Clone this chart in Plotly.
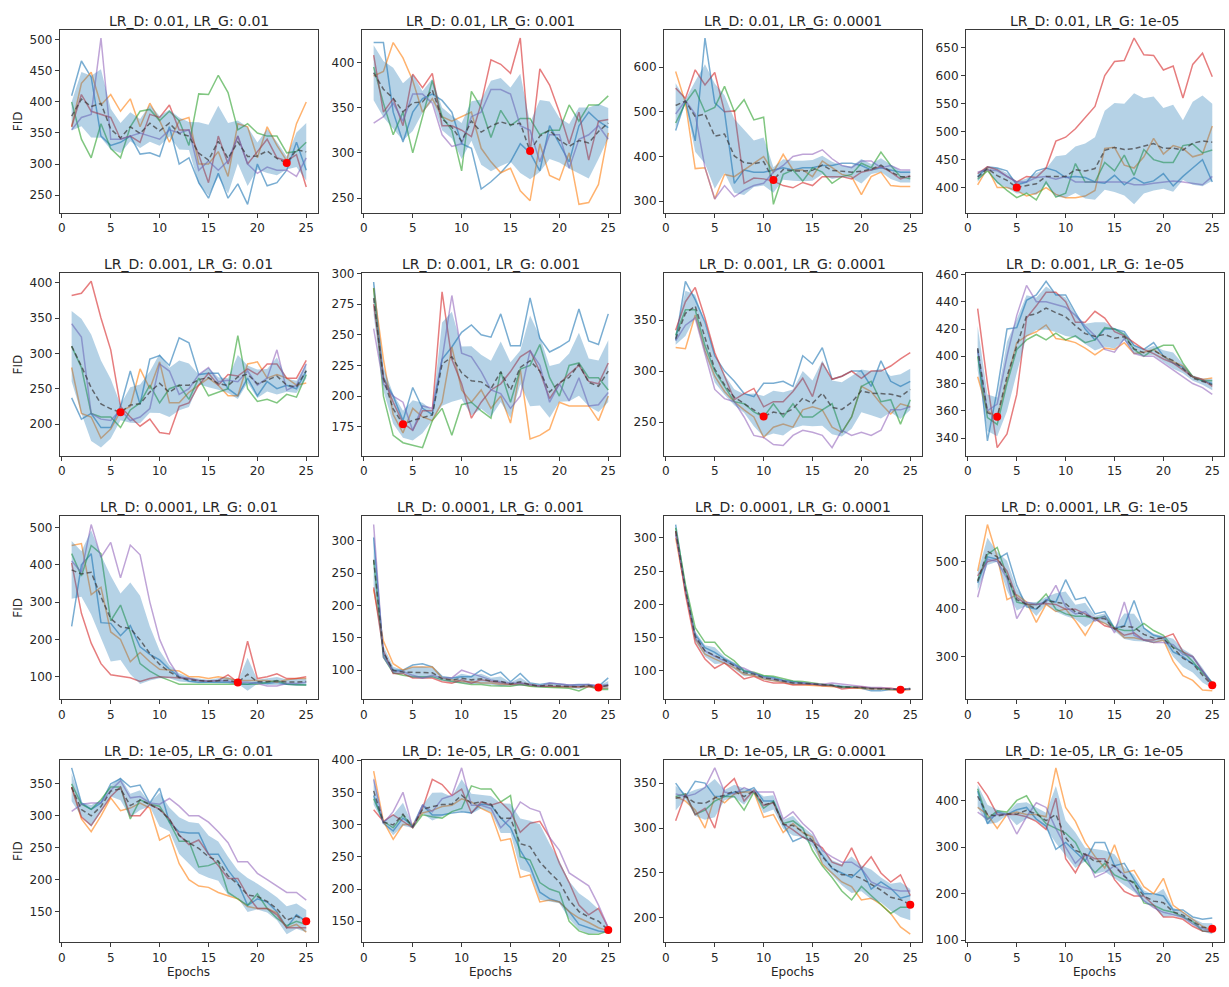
import numpy as np
import plotly.graph_objects as go

epochs = list(range(1, 26))
lr_d_labels = ["0.01", "0.001", "0.0001", "1e-05"]
lr_g_labels = ["0.01", "0.001", "0.0001", "1e-05"]
run_colors = ["#1f77b4", "#ff7f0e", "#2ca02c", "#d62728", "#9467bd"]

# Each panel: five runs (blue, orange, green, red, purple), FID per epoch 1..25
fid_d01_g01 = [
    [410, 466, 440, 345, 330, 335, 345, 316, 318, 312, 360, 300, 310, 270, 245, 285, 245, 268, 235, 300, 265, 270, 290, 335, 290],
    [360, 430, 448, 395, 412, 385, 405, 360, 398, 370, 335, 370, 375, 300, 300, 320, 280, 365, 360, 310, 360, 330, 305, 365, 400],
    [400, 340, 310, 365, 325, 310, 360, 385, 388, 370, 385, 370, 330, 413, 412, 443, 415, 355, 365, 350, 345, 345, 318, 320, 335],
    [360, 412, 385, 380, 375, 340, 345, 335, 380, 375, 395, 355, 355, 315, 270, 345, 300, 345, 300, 320, 340, 310, 305, 315, 263],
    [355, 375, 380, 503, 340, 340, 345, 350, 345, 340, 355, 350, 355, 290, 305, 290, 305, 345, 300, 285, 295, 290, 290, 280, 310],
]
fid_d01_g001 = [
    [422, 422, 345, 312, 345, 360, 365, 358, 345, 310, 305, 260, 268, 278, 290, 310, 300, 280, 330, 310, 290, 330, 345, 335, 328],
    [385, 390, 422, 405, 380, 345, 360, 340, 335, 340, 345, 305, 290, 278, 283, 258, 247, 310, 275, 270, 300, 243, 245, 265, 322],
    [395, 355, 320, 345, 300, 340, 380, 340, 325, 280, 368, 350, 317, 347, 330, 338, 338, 320, 325, 325, 353, 335, 353, 353, 363],
    [408, 345, 360, 330, 387, 372, 388, 330, 330, 325, 318, 355, 403, 398, 388, 427, 300, 393, 375, 345, 310, 345, 292, 335, 337],
    [333, 340, 355, 335, 365, 365, 355, 320, 307, 310, 340, 345, 370, 370, 365, 330, 325, 290, 320, 320, 283, 315, 320, 330, 315],
]
fid_d01_g0001 = [
    [458, 525, 435, 665, 520, 500, 340, 370, 365, 365, 370, 375, 370, 375, 375, 380, 380, 385, 385, 380, 370, 375, 370, 365, 365],
    [590, 520, 373, 375, 305, 360, 355, 370, 385, 400, 365, 405, 370, 370, 355, 390, 375, 360, 355, 315, 355, 365, 335, 333, 333],
    [475, 520, 550, 500, 510, 557, 500, 527, 482, 488, 293, 360, 370, 345, 375, 365, 340, 355, 360, 385, 375, 410, 380, 355, 350],
    [553, 530, 594, 560, 588, 500, 502, 340, 352, 350, 345, 335, 330, 342, 335, 355, 355, 355, 350, 365, 370, 378, 365, 350, 357],
    [495, 525, 495, 375, 305, 335, 310, 325, 335, 340, 365, 380, 400, 405, 405, 415, 395, 380, 375, 390, 390, 375, 380, 370, 370],
]
fid_d01_g1e5 = [
    [420, 437, 435, 430, 405, 410, 430, 435, 430, 418, 420, 418, 410, 408, 422, 405, 418, 408, 412, 425, 403, 420, 435, 450, 410],
    [405, 435, 400, 400, 395, 385, 390, 400, 388, 382, 382, 385, 395, 470, 472, 440, 435, 455, 488, 460, 475, 470, 455, 460, 510],
    [415, 430, 410, 395, 382, 390, 378, 410, 383, 390, 443, 410, 410, 445, 430, 458, 422, 468, 450, 445, 445, 475, 478, 462, 467],
    [425, 437, 432, 420, 410, 420, 418, 435, 483, 490, 505, 525, 545, 600, 625, 627, 667, 637, 636, 610, 617, 560, 620, 640, 598],
    [428, 432, 430, 420, 410, 410, 418, 420, 415, 420, 410, 410, 410, 410, 410, 410, 405, 405, 408, 410, 412, 410, 408, 405, 420],
]
fid_d001_g01 = [
    [237, 207, 215, 195, 195, 225, 275, 228, 292, 297, 283, 322, 315, 270, 272, 272, 250, 240, 265, 240, 260, 250, 255, 250, 275],
    [280, 215, 210, 180, 193, 218, 225, 278, 250, 288, 230, 230, 245, 255, 265, 255, 240, 240, 285, 288, 265, 270, 265, 255, 258],
    [310, 280, 215, 210, 210, 195, 220, 230, 255, 230, 250, 255, 235, 265, 240, 245, 250, 325, 250, 232, 235, 230, 242, 238, 270],
    [382, 385, 402, 350, 305, 225, 210, 197, 207, 188, 186, 225, 230, 255, 272, 255, 270, 268, 278, 270, 285, 285, 265, 265, 290],
    [342, 323, 215, 207, 205, 220, 205, 210, 222, 285, 275, 242, 250, 270, 280, 260, 262, 260, 275, 255, 265, 305, 248, 255, 285],
]
fid_d001_g001 = [
    [293, 215, 200, 180, 207, 190, 185, 230, 240, 252, 258, 250, 248, 267, 241, 241, 280, 247, 236, 240, 245, 271, 245, 242, 267],
    [288, 230, 185, 170, 190, 183, 180, 195, 240, 205, 195, 205, 190, 200, 178, 222, 165, 168, 173, 195, 192, 192, 192, 180, 200],
    [288, 200, 168, 162, 160, 158, 180, 190, 168, 193, 195, 188, 182, 220, 195, 222, 225, 242, 215, 200, 225, 227, 215, 215, 205],
    [275, 215, 195, 178, 172, 188, 188, 285, 230, 210, 182, 195, 205, 210, 220, 232, 237, 220, 198, 210, 218, 225, 212, 210, 227],
    [255, 210, 200, 195, 172, 192, 190, 230, 282, 235, 232, 220, 205, 202, 190, 200, 237, 225, 195, 210, 196, 215, 192, 193, 203],
]
fid_d001_g0001 = [
    [330, 388, 370, 348, 315, 300, 290, 278, 275, 288, 288, 290, 285, 315, 307, 323, 292, 295, 300, 300, 285, 310, 290, 285, 290],
    [323, 322, 355, 320, 295, 280, 270, 262, 255, 235, 245, 248, 245, 262, 265, 262, 245, 240, 255, 285, 280, 268, 258, 268, 265],
    [335, 360, 360, 325, 300, 285, 270, 268, 260, 255, 268, 255, 268, 255, 255, 262, 268, 240, 255, 285, 290, 270, 272, 248, 272],
    [340, 368, 382, 352, 318, 295, 272, 278, 283, 265, 270, 270, 280, 293, 275, 308, 292, 295, 300, 293, 300, 300, 305, 312, 318],
    [330, 345, 352, 318, 282, 273, 270, 255, 237, 235, 228, 227, 237, 242, 240, 237, 225, 242, 237, 240, 237, 242, 262, 262, 265],
]
fid_d001_g1e5 = [
    [405, 338, 375, 420, 421, 441, 445, 455, 445, 445, 432, 420, 412, 420, 420, 418, 408, 405, 410, 400, 395, 392, 385, 382, 380],
    [385, 360, 355, 383, 410, 415, 418, 423, 413, 412, 410, 406, 401, 406, 405, 410, 402, 403, 405, 400, 396, 393, 385, 383, 384],
    [400, 355, 350, 380, 405, 412, 416, 412, 417, 412, 415, 410, 412, 421, 420, 416, 405, 400, 405, 408, 408, 395, 385, 382, 382],
    [435, 380, 333, 343, 372, 428, 437, 447, 447, 440, 425, 425, 433, 428, 418, 415, 410, 405, 402, 398, 395, 390, 385, 383, 378],
    [405, 360, 365, 400, 430, 452, 440, 440, 438, 436, 430, 422, 415, 405, 403, 413, 402, 400, 400, 395, 390, 385, 380, 377, 372],
]
fid_d0001_g01 = [
    [235, 400, 430, 245, 243, 210, 237, 180, 160, 145, 120, 100, 88, 85, 85, 85, 85, 82, 80, 85, 82, 85, 80, 78, 78],
    [452, 457, 320, 340, 220, 200, 140, 165, 140, 120, 118, 115, 100, 100, 95, 100, 95, 90, 90, 90, 90, 85, 92, 95, 95],
    [430, 370, 452, 430, 250, 292, 220, 135, 115, 100, 90, 80, 80, 80, 82, 80, 80, 80, 82, 80, 85, 90, 80, 78, 78],
    [405, 270, 190, 135, 105, 102, 97, 87, 95, 100, 98, 95, 95, 90, 88, 90, 105, 85, 195, 95, 100, 108, 95, 95, 100],
    [410, 380, 508, 420, 460, 365, 453, 427, 300, 200, 140, 100, 95, 90, 88, 90, 88, 85, 85, 82, 75, 75, 82, 82, 85],
]
fid_d0001_g001 = [
    [305, 125, 100, 100, 108, 110, 105, 90, 88, 90, 90, 100, 92, 97, 82, 95, 80, 78, 80, 78, 77, 78, 78, 75, 88],
    [225, 145, 110, 100, 105, 105, 105, 88, 85, 82, 82, 80, 80, 78, 78, 78, 76, 75, 75, 74, 74, 74, 76, 72, 72],
    [270, 120, 96, 92, 90, 90, 90, 85, 82, 80, 78, 78, 76, 76, 75, 78, 75, 74, 74, 73, 72, 68, 75, 70, 70],
    [228, 130, 95, 95, 88, 88, 88, 82, 80, 85, 80, 85, 82, 80, 78, 80, 78, 75, 75, 75, 74, 74, 75, 74, 76],
    [325, 120, 98, 98, 92, 88, 92, 88, 88, 100, 95, 90, 85, 82, 80, 80, 78, 75, 80, 78, 77, 77, 78, 76, 78],
]
fid_d0001_g0001 = [
    [320, 225, 155, 135, 128, 118, 110, 100, 96, 92, 90, 86, 84, 82, 80, 78, 78, 76, 75, 74, 70, 70, 72, 71, 74],
    [300, 220, 148, 125, 118, 112, 105, 95, 93, 88, 86, 83, 80, 79, 79, 77, 76, 75, 75, 74, 73, 73, 72, 71, 72],
    [315, 230, 165, 143, 143, 125, 115, 100, 98, 93, 92, 88, 85, 84, 82, 80, 78, 76, 76, 75, 74, 73, 73, 72, 73],
    [310, 215, 142, 118, 104, 112, 100, 88, 92, 85, 82, 82, 79, 80, 80, 78, 78, 73, 75, 76, 74, 74, 74, 72, 72],
    [305, 222, 150, 130, 122, 115, 108, 104, 97, 90, 88, 85, 82, 82, 81, 80, 82, 80, 78, 76, 75, 75, 74, 72, 73],
]
fid_d0001_g1e5 = [
    [455, 510, 505, 518, 450, 405, 400, 420, 415, 462, 420, 425, 390, 395, 360, 365, 418, 360, 345, 340, 310, 300, 285, 270, 245],
    [480, 578, 510, 420, 430, 415, 372, 410, 395, 400, 375, 345, 380, 370, 360, 340, 340, 335, 330, 335, 290, 260, 250, 230, 228],
    [460, 515, 530, 470, 415, 410, 410, 432, 400, 390, 385, 385, 380, 385, 360, 355, 355, 370, 355, 345, 320, 310, 290, 265, 245],
    [470, 500, 505, 480, 425, 410, 410, 412, 410, 400, 400, 390, 380, 365, 360, 345, 350, 335, 335, 340, 348, 310, 300, 270, 240],
    [425, 505, 500, 465, 380, 415, 410, 415, 450, 405, 390, 395, 375, 385, 350, 415, 345, 335, 330, 330, 325, 305, 300, 270, 240],
]
fid_d1e5_g01 = [
    [375, 320, 310, 320, 350, 358, 345, 348, 320, 343, 290, 275, 273, 273, 240, 240, 215, 195, 160, 170, 165, 150, 125, 145, 135],
    [345, 295, 275, 300, 328, 308, 312, 320, 312, 262, 270, 225, 200, 190, 188, 180, 175, 170, 158, 155, 155, 148, 125, 130, 118],
    [350, 318, 310, 325, 345, 345, 295, 325, 318, 315, 290, 260, 260, 220, 222, 228, 180, 170, 160, 178, 155, 140, 128, 135, 130],
    [345, 298, 285, 308, 330, 345, 300, 300, 318, 310, 295, 270, 255, 262, 240, 222, 202, 202, 175, 155, 155, 145, 125, 125, 125],
    [307, 318, 320, 320, 340, 355, 328, 330, 320, 318, 327, 315, 300, 300, 290, 275, 258, 228, 228, 210, 200, 190, 180, 180, 168],
]
fid_d1e5_g001 = [
    [345, 302, 290, 310, 298, 330, 315, 315, 318, 320, 318, 332, 330, 310, 295, 260, 235, 195, 185, 180, 165, 145, 140, 135, 133],
    [383, 305, 277, 300, 300, 318, 322, 328, 330, 340, 335, 325, 318, 275, 278, 218, 222, 180, 183, 180, 165, 155, 148, 140, 135],
    [340, 305, 295, 315, 295, 315, 312, 310, 320, 325, 360, 355, 355, 335, 345, 250, 245, 210, 200, 195, 150, 135, 130, 130, 135],
    [323, 305, 315, 305, 295, 325, 370, 362, 345, 355, 318, 335, 330, 335, 320, 288, 302, 305, 280, 240, 210, 175, 160, 170, 140],
    [370, 302, 320, 350, 295, 330, 320, 340, 345, 388, 330, 330, 325, 295, 310, 335, 325, 320, 280, 260, 225, 215, 205, 175, 140],
]
fid_d1e5_g0001 = [
    [350, 335, 352, 350, 335, 335, 340, 340, 345, 330, 330, 305, 285, 290, 285, 270, 255, 250, 245, 255, 232, 240, 233, 222, 225],
    [335, 330, 320, 300, 335, 328, 338, 340, 340, 312, 315, 295, 305, 295, 290, 260, 250, 240, 235, 220, 222, 215, 205, 190, 182],
    [335, 338, 315, 320, 330, 335, 335, 320, 340, 322, 330, 305, 308, 300, 275, 258, 245, 230, 220, 235, 225, 215, 205, 212, 212],
    [308, 338, 315, 322, 300, 345, 355, 330, 342, 325, 328, 305, 298, 290, 285, 278, 262, 258, 278, 255, 268, 250, 240, 248, 225],
    [338, 335, 338, 345, 367, 340, 338, 345, 340, 340, 340, 310, 318, 305, 295, 275, 268, 262, 262, 255, 240, 235, 232, 230, 230],
]
fid_d1e5_g1e5 = [
    [420, 350, 375, 370, 380, 385, 360, 345, 295, 310, 290, 270, 310, 310, 260, 265, 230, 200, 200, 195, 165, 165, 150, 145, 148],
    [385, 370, 340, 370, 375, 370, 370, 365, 470, 385, 355, 310, 280, 255, 305, 245, 250, 215, 200, 233, 175, 160, 145, 130, 120],
    [425, 360, 378, 375, 400, 410, 375, 350, 340, 330, 310, 270, 245, 265, 240, 230, 225, 180, 175, 165, 160, 150, 140, 120, 118],
    [440, 410, 370, 370, 370, 365, 355, 338, 405, 275, 245, 285, 275, 275, 230, 205, 195, 195, 175, 150, 150, 145, 130, 120, 118],
    [375, 360, 370, 370, 328, 365, 395, 385, 340, 300, 265, 285, 235, 245, 260, 240, 210, 185, 170, 160, 155, 150, 135, 125, 120],
]

panels = [
    [fid_d01_g01, fid_d01_g001, fid_d01_g0001, fid_d01_g1e5],
    [fid_d001_g01, fid_d001_g001, fid_d001_g0001, fid_d001_g1e5],
    [fid_d0001_g01, fid_d0001_g001, fid_d0001_g0001, fid_d0001_g1e5],
    [fid_d1e5_g01, fid_d1e5_g001, fid_d1e5_g0001, fid_d1e5_g1e5],
]
ytick_steps = [
    [50, 50, 100, 50],
    [50, 25, 50, 20],
    [100, 50, 50, 100],
    [50, 50, 50, 100],
]

W, H = 1229, 987
box_w, gap_x = 258.5, 44.0
left0 = 58.0
box_h, row_pitch, top0 = 185.0, 246.0, 24.0
text_color = "#262626"
font_family = "DejaVu Sans"


def rgba(hex_color, a):
    h = hex_color.lstrip("#")
    return f"rgba({int(h[0:2],16)},{int(h[2:4],16)},{int(h[4:6],16)},{a})"


fig = go.Figure()
annotations = []
layout_axes = {}

for r in range(4):
    for c in range(4):
        n = r * 4 + c + 1
        xa = "x" if n == 1 else f"x{n}"
        ya = "y" if n == 1 else f"y{n}"
        runs = np.array(panels[r][c], dtype=float)
        mean = runs.mean(axis=0)
        std = runs.std(axis=0)
        upper = mean + std
        lower = mean - std

        for k in range(5):
            fig.add_trace(go.Scatter(
                x=epochs, y=runs[k], mode="lines", xaxis=xa, yaxis=ya,
                line=dict(color=rgba(run_colors[k], 0.6), width=1.5),
                showlegend=False, hoverinfo="skip"))
        fig.add_trace(go.Scatter(
            x=epochs, y=upper, mode="lines", xaxis=xa, yaxis=ya,
            line=dict(width=0, color="rgba(0,0,0,0)"), showlegend=False, hoverinfo="skip"))
        fig.add_trace(go.Scatter(
            x=epochs, y=lower, mode="lines", xaxis=xa, yaxis=ya, fill="tonexty",
            fillcolor="rgba(31,119,180,0.33)",
            line=dict(width=0, color="rgba(0,0,0,0)"), showlegend=False, hoverinfo="skip"))
        fig.add_trace(go.Scatter(
            x=epochs, y=mean, mode="lines", xaxis=xa, yaxis=ya,
            line=dict(color="rgba(60,55,55,0.7)", width=1.5, dash="5px,3px"),
            showlegend=False, hoverinfo="skip"))
        best = int(np.argmin(mean))
        fig.add_trace(go.Scatter(
            x=[epochs[best]], y=[mean[best]], mode="markers", xaxis=xa, yaxis=ya,
            marker=dict(color="#ff0000", size=8), showlegend=False, hoverinfo="skip"))

        lo = min(runs.min(), lower.min())
        hi = max(runs.max(), upper.max())
        pad = (hi - lo) * 0.05

        x0 = (left0 + c * (box_w + gap_x)) / W
        x1 = x0 + box_w / W
        top = top0 + r * row_pitch
        y1 = 1 - top / H
        y0 = 1 - (top + box_h) / H

        common = dict(showline=True, mirror=True, linecolor="#3a3a3a", linewidth=1,
                      ticks="outside", ticklen=4, tickcolor="#3a3a3a", showgrid=False,
                      zeroline=False, tickfont=dict(size=12, color=text_color, family=font_family))
        layout_axes["xaxis" if n == 1 else f"xaxis{n}"] = dict(
            domain=[x0, x1], anchor=ya, range=[-0.2, 26.2], tickmode="linear", tick0=0, dtick=5, **common)
        layout_axes["yaxis" if n == 1 else f"yaxis{n}"] = dict(
            domain=[y0, y1], anchor=xa, range=[lo - pad, hi + pad], tickmode="linear", tick0=0,
            dtick=ytick_steps[r][c], **common)

        annotations.append(dict(
            text=f"LR_D: {lr_d_labels[r]}, LR_G: {lr_g_labels[c]}", xref="paper", yref="paper",
            x=(x0 + x1) / 2, y=1 - (top - 9) / H, xanchor="center", yanchor="middle", showarrow=False,
            font=dict(size=14, color=text_color, family=font_family)))
        if c == 0:
            annotations.append(dict(
                text="FID", xref="paper", yref="paper", x=16 / W, y=(y0 + y1) / 2,
                xanchor="center", yanchor="middle", textangle=-90, showarrow=False,
                font=dict(size=12, color=text_color, family=font_family)))
        if r == 3:
            annotations.append(dict(
                text="Epochs", xref="paper", yref="paper", x=(x0 + x1) / 2, y=1 - 977 / H,
                xanchor="center", yanchor="middle", showarrow=False,
                font=dict(size=12, color=text_color, family=font_family)))

fig.update_layout(
    width=W, height=H, margin=dict(l=0, r=0, t=0, b=0),
    paper_bgcolor="white", plot_bgcolor="white",
    font=dict(family=font_family, color=text_color),
    annotations=annotations, **layout_axes)

fig.write_html(
    "out.html",
    config={"displayModeBar": False, "staticPlot": True},
    post_script="document.body.style.margin='0';document.body.style.padding='0';"
                "document.documentElement.style.overflow='hidden';",
)
